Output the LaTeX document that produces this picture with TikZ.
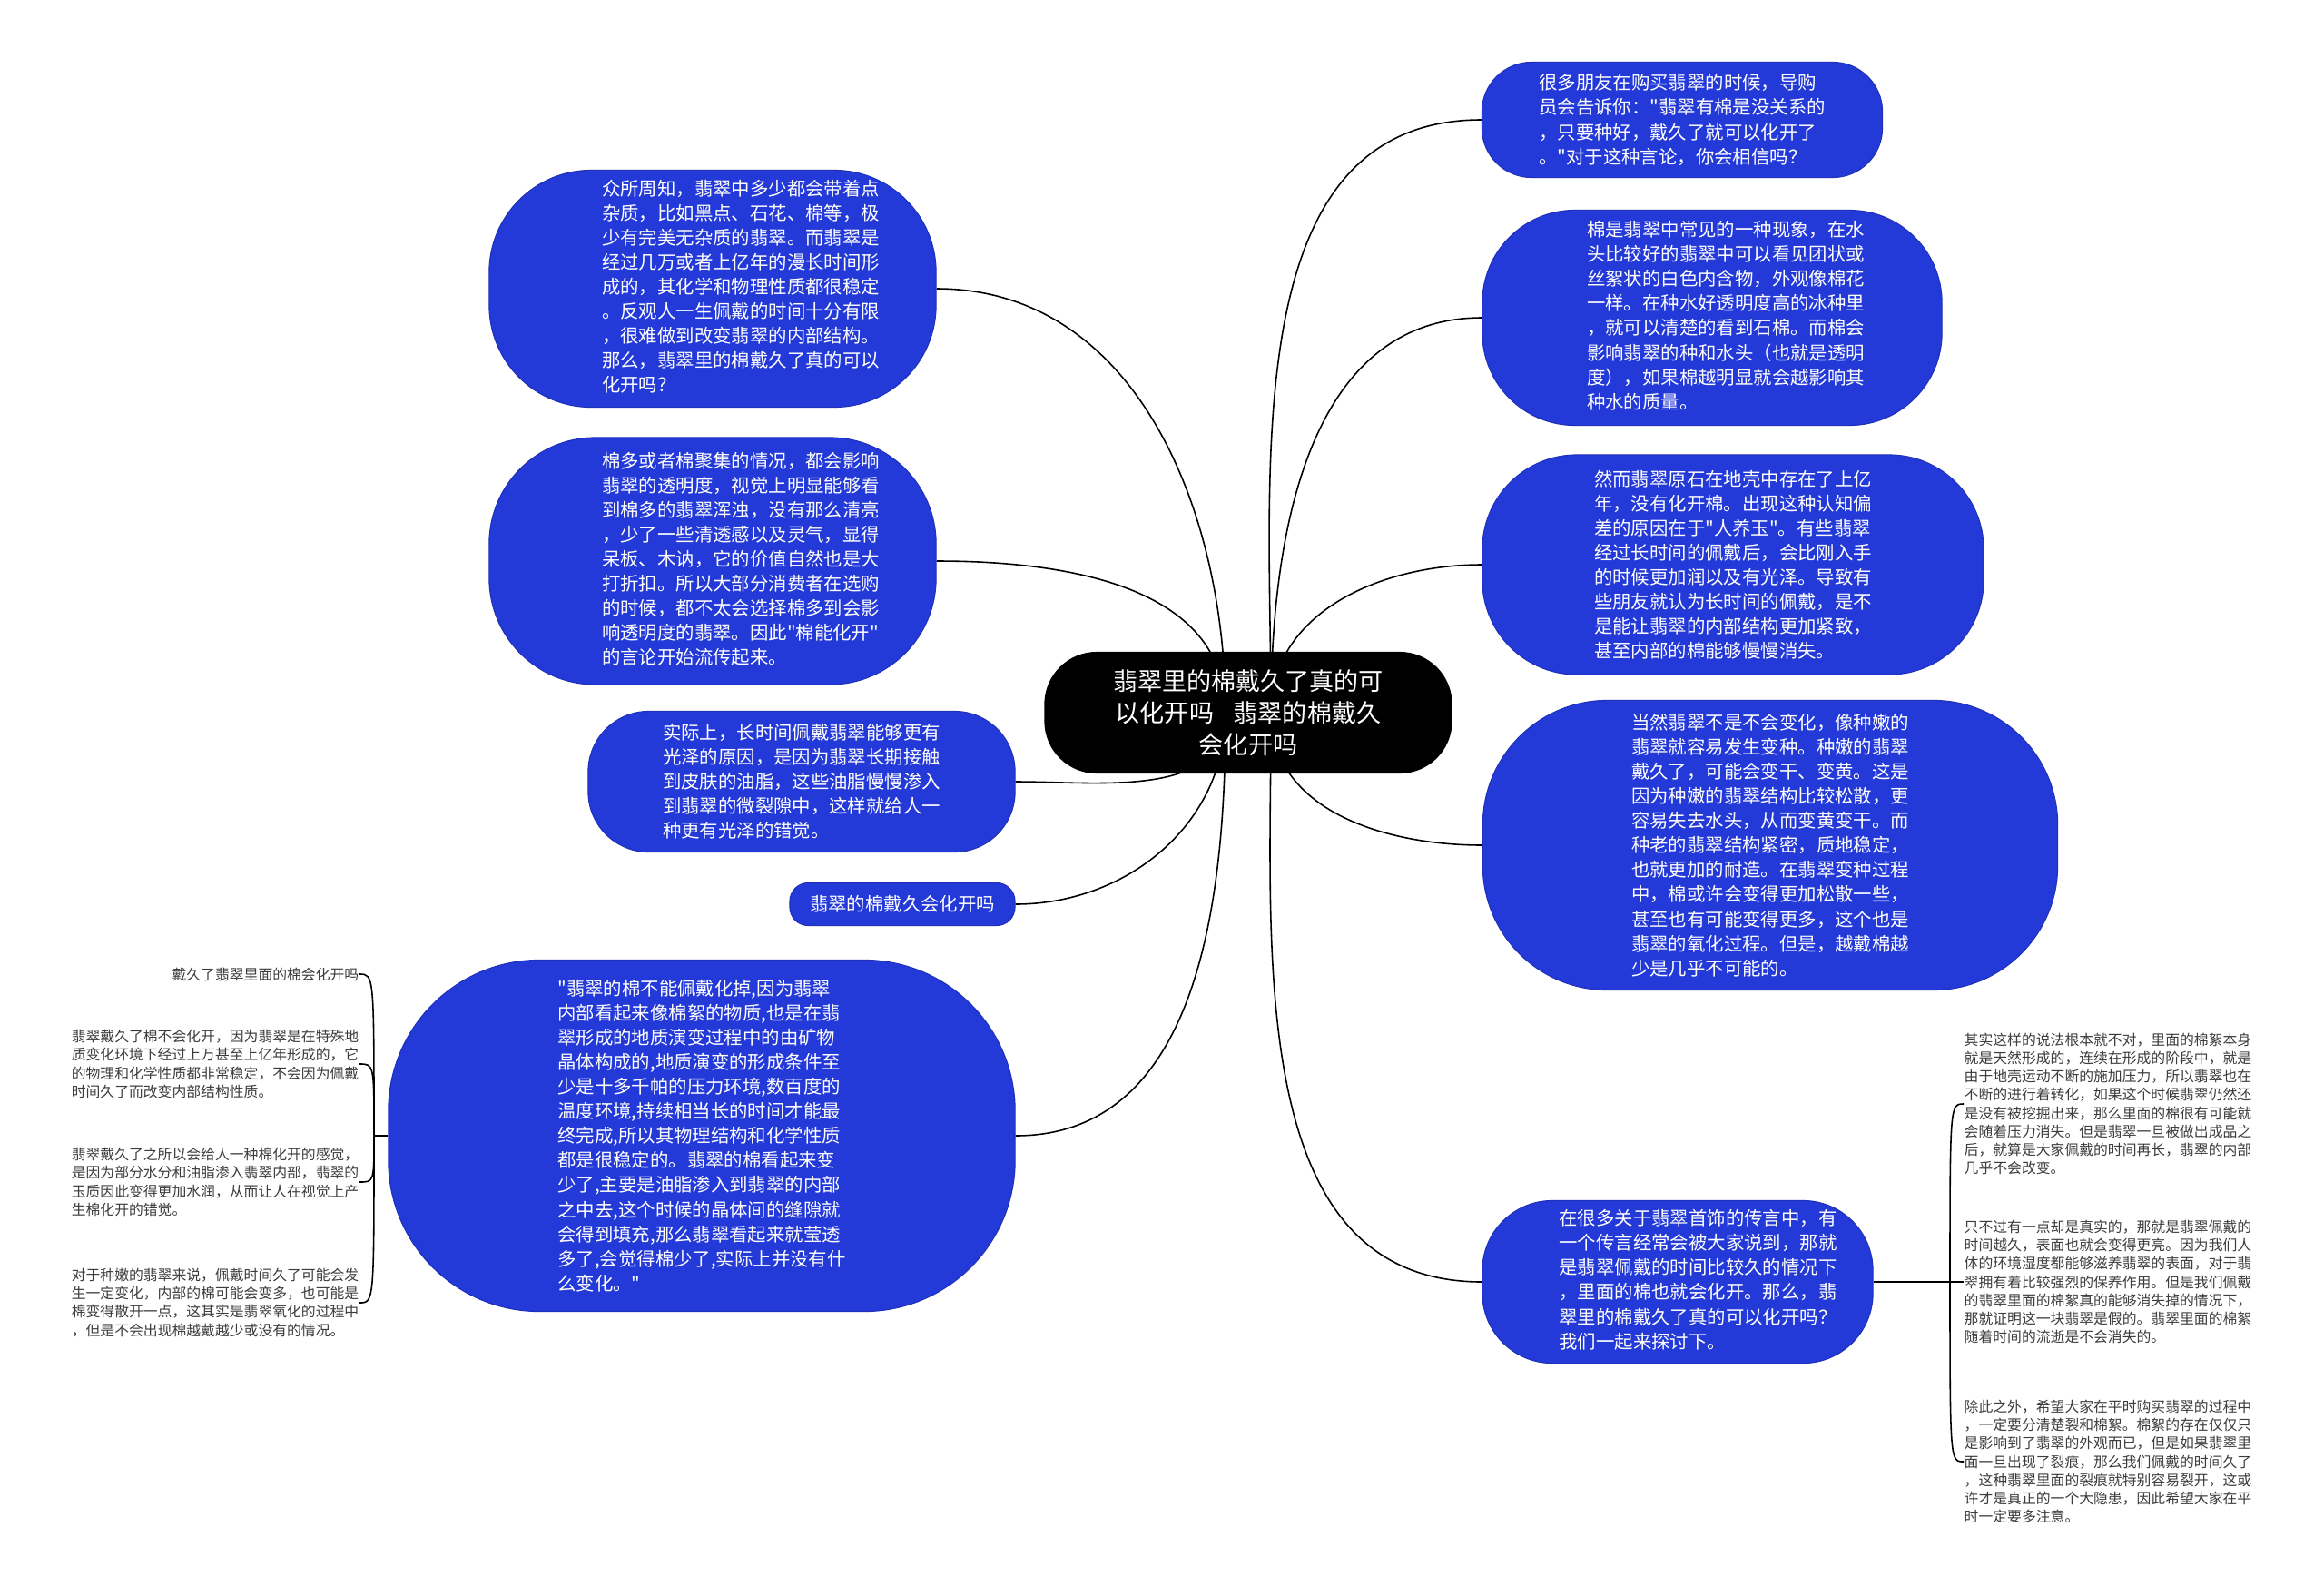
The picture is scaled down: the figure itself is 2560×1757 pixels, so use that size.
\documentclass[tikz,border=0pt]{standalone}
\usepackage{fontspec}
\newfontfamily\cjkfont{Noto Sans CJK SC}
\usepackage{xcolor}
\usepackage{tikz}
\usetikzlibrary{backgrounds}
\definecolor{mapblue}{RGB}{36,58,216}
\definecolor{leafgray}{RGB}{60,60,60}
\newcommand{\padtext}[2]{\begin{tabular}{@{\hspace{#1}}l@{}}#2\end{tabular}}

\begin{document}
\begin{tikzpicture}[x=0.01cm, y=0.01cm,
  dims/.style 2 args={minimum width=#1cm, minimum height=#2cm, rounded corners={#2cm*0.43}},
  topic/.style={rectangle, fill=black, text=white, align=center, inner sep=0pt, font=\cjkfont\fontsize{7.7}{10}\selectfont},
  sub/.style={rectangle, fill=mapblue, draw=mapblue!85!black, line width=0.3pt, text=white, align=left, inner sep=0pt, font=\cjkfont\fontsize{5.8}{7.7}\selectfont},
  leaf/.style={align=left, inner sep=0pt, text=leafgray, font=\cjkfont\fontsize{4.5}{5.75}\selectfont},
  link/.style={draw=black, line width=0.45pt}
]
\useasboundingbox (0,0) rectangle (2560,-1757);

\node[topic, dims={4.49}{1.34}] (root) at (1375,-785) {翡翠里的棉戴久了真的可\\以化开吗\hspace{0.8em}翡翠的棉戴久\\会化开吗};

\node[sub, dims={4.41}{1.27}] (r1) at (1853,-132) {很多朋友在购买翡翠的时候，导购\\员会告诉你："翡翠有棉是没关系的\\，只要种好，戴久了就可以化开了\\。"对于这种言论，你会相信吗？};
\node[sub, dims={5.06}{2.37}] (r2) at (1886,-350) {\padtext{0.3cm}{棉是翡翠中常见的一种现象，在水\\头比较好的翡翠中可以看见团状或\\丝絮状的白色内含物，外观像棉花\\一样。在种水好透明度高的冰种里\\，就可以清楚的看到石棉。而棉会\\影响翡翠的种和水头（也就是透明\\度），如果棉越明显就会越影响其\\种水的质量。}};
\node[sub, dims={5.52}{2.42}] (r3) at (1909,-622) {然而翡翠原石在地壳中存在了上亿\\年，没有化开棉。出现这种认知偏\\差的原因在于"人养玉"。有些翡翠\\经过长时间的佩戴后，会比刚入手\\的时候更加润以及有光泽。导致有\\些朋友就认为长时间的佩戴，是不\\是能让翡翠的内部结构更加紧致，\\甚至内部的棉能够慢慢消失。};
\node[sub, dims={6.33}{3.19}] (r4) at (1950,-931) {当然翡翠不是不会变化，像种嫩的\\翡翠就容易发生变种。种嫩的翡翠\\戴久了，可能会变干、变黄。这是\\因为种嫩的翡翠结构比较松散，更\\容易失去水头，从而变黄变干。而\\种老的翡翠结构紧密，质地稳定，\\也就更加的耐造。在翡翠变种过程\\中，棉或许会变得更加松散一些，\\甚至也有可能变得更多，这个也是\\翡翠的氧化过程。但是，越戴棉越\\少是几乎不可能的。};
\node[sub, dims={4.30}{1.79}] (r5) at (1848,-1412) {\padtext{0.45cm}{在很多关于翡翠首饰的传言中，有\\一个传言经常会被大家说到，那就\\是翡翠佩戴的时间比较久的情况下\\，里面的棉也就会化开。那么，翡\\翠里的棉戴久了真的可以化开吗？\\我们一起来探讨下。}};

\node[sub, dims={4.92}{2.61}] (l1) at (785,-318) {\padtext{0.62cm}{众所周知，翡翠中多少都会带着点\\杂质，比如黑点、石花、棉等，极\\少有完美无杂质的翡翠。而翡翠是\\经过几万或者上亿年的漫长时间形\\成的，其化学和物理性质都很稳定\\。反观人一生佩戴的时间十分有限\\，很难做到改变翡翠的内部结构。\\那么，翡翠里的棉戴久了真的可以\\化开吗？}};
\node[sub, dims={4.92}{2.72}] (l2) at (785,-618) {\padtext{0.62cm}{棉多或者棉聚集的情况，都会影响\\翡翠的透明度，视觉上明显能够看\\到棉多的翡翠浑浊，没有那么清亮\\，少了一些清透感以及灵气，显得\\呆板、木讷，它的价值自然也是大\\打折扣。所以大部分消费者在选购\\的时候，都不太会选择棉多到会影\\响透明度的翡翠。因此"棉能化开"\\的言论开始流传起来。}};
\node[sub, dims={4.70}{1.55}] (l3) at (883,-861) {实际上，长时间佩戴翡翠能够更有\\光泽的原因，是因为翡翠长期接触\\到皮肤的油脂，这些油脂慢慢渗入\\到翡翠的微裂隙中，这样就给人一\\种更有光泽的错觉。};
\node[sub, dims={2.48}{0.47}] (l4) at (994,-996) {翡翠的棉戴久会化开吗};
\node[sub, dims={6.90}{3.87}] (l5) at (773,-1251) {"翡翠的棉不能佩戴化掉,因为翡翠\\内部看起来像棉絮的物质,也是在翡\\翠形成的地质演变过程中的由矿物\\晶体构成的,地质演变的形成条件至\\少是十多千帕的压力环境,数百度的\\温度环境,持续相当长的时间才能最\\终完成,所以其物理结构和化学性质\\都是很稳定的。翡翠的棉看起来变\\少了,主要是油脂渗入到翡翠的内部\\之中去,这个时候的晶体间的缝隙就\\会得到填充,那么翡翠看起来就莹透\\多了,会觉得棉少了,实际上并没有什\\么变化。"};

\node[leaf, anchor=east] (ll1) at (396,-1073) {戴久了翡翠里面的棉会化开吗};
\node[leaf, anchor=east] (ll2) at (396,-1172) {翡翠戴久了棉不会化开，因为翡翠是在特殊地\\质变化环境下经过上万甚至上亿年形成的，它\\的物理和化学性质都非常稳定，不会因为佩戴\\时间久了而改变内部结构性质。};
\node[leaf, anchor=east] (ll3) at (396,-1302) {翡翠戴久了之所以会给人一种棉化开的感觉，\\是因为部分水分和油脂渗入翡翠内部，翡翠的\\玉质因此变得更加水润，从而让人在视觉上产\\生棉化开的错觉。};
\node[leaf, anchor=east] (ll4) at (396,-1435) {对于种嫩的翡翠来说，佩戴时间久了可能会发\\生一定变化，内部的棉可能会变多，也可能是\\棉变得散开一点，这其实是翡翠氧化的过程中\\，但是不会出现棉越戴越少或没有的情况。};

\node[leaf, anchor=west] (rl1) at (2163,-1216) {其实这样的说法根本就不对，里面的棉絮本身\\就是天然形成的，连续在形成的阶段中，就是\\由于地壳运动不断的施加压力，所以翡翠也在\\不断的进行着转化，如果这个时候翡翠仍然还\\是没有被挖掘出来，那么里面的棉很有可能就\\会随着压力消失。但是翡翠一旦被做出成品之\\后，就算是大家佩戴的时间再长，翡翠的内部\\几乎不会改变。};
\node[leaf, anchor=west] (rl2) at (2163,-1412) {只不过有一点却是真实的，那就是翡翠佩戴的\\时间越久，表面也就会变得更亮。因为我们人\\体的环境湿度都能够滋养翡翠的表面，对于翡\\翠拥有着比较强烈的保养作用。但是我们佩戴\\的翡翠里面的棉絮真的能够消失掉的情况下，\\那就证明这一块翡翠是假的。翡翠里面的棉絮\\随着时间的流逝是不会消失的。};
\node[leaf, anchor=west] (rl3) at (2163,-1610) {除此之外，希望大家在平时购买翡翠的过程中\\，一定要分清楚裂和棉絮。棉絮的存在仅仅只\\是影响到了翡翠的外观而已，但是如果翡翠里\\面一旦出现了裂痕，那么我们佩戴的时间久了\\，这种翡翠里面的裂痕就特别容易裂开，这或\\许才是真正的一个大隐患，因此希望大家在平\\时一定要多注意。};

\coordinate (cr) at (1400,-785);
\coordinate (cl) at (1350,-785);
\coordinate (bl) at (412,-1251);
\coordinate (br) at (2148,-1412);

\begin{scope}[on background layer]
\fill[white] (0,0) rectangle (2560,-1757);
\draw[link] (cr) to[out=90,in=180] (r1.west);
\draw[link] (cr) to[out=90,in=180] (r2.west);
\draw[link] (cr) to[out=90,in=180] (r3.west);
\draw[link] (cr) to[out=-90,in=180] (r4.west);
\draw[link] (cr) to[out=-90,in=180] (r5.west);
\draw[link] (cl) to[out=90,in=0] (l1.east);
\draw[link] (cl) to[out=90,in=0] (l2.east);
\draw[link] (cl) to[out=-90,in=0] (l3.east);
\draw[link] (cl) to[out=-90,in=0] (l4.east);
\draw[link] (cl) to[out=-90,in=0] (l5.east);
\draw[link] (l5.west) -- (bl);
\draw[link] (bl) .. controls (bl |- ll1.east) .. (ll1.east);
\draw[link] (bl) .. controls (bl |- ll2.east) .. (ll2.east);
\draw[link] (bl) .. controls (bl |- ll3.east) .. (ll3.east);
\draw[link] (bl) .. controls (bl |- ll4.east) .. (ll4.east);
\draw[link] (r5.east) -- (br);
\draw[link] (br) .. controls (br |- rl1.west) .. (rl1.west);
\draw[link] (br) -- (rl2.west);
\draw[link] (br) .. controls (br |- rl3.west) .. (rl3.west);
\end{scope}
\end{tikzpicture}
\end{document}
